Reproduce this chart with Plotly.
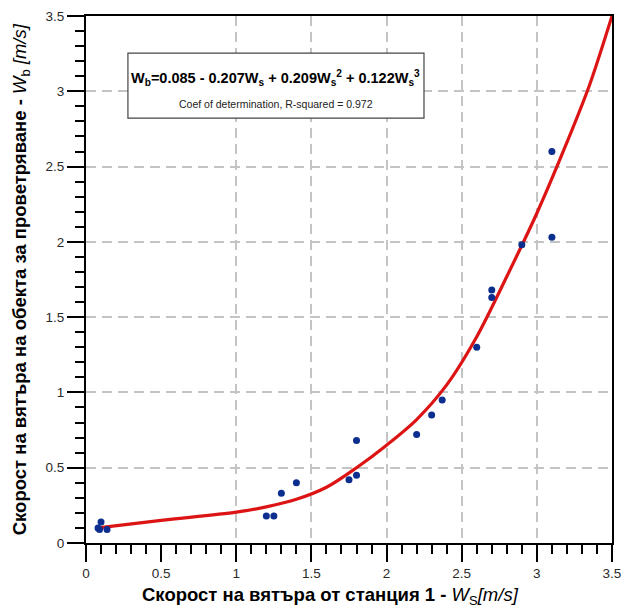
import plotly.graph_objects as go

# Measured data points
ws = [0.08, 0.09, 0.10, 0.14, 1.20, 1.25, 1.30, 1.40, 1.75, 1.80, 1.80,
      2.20, 2.30, 2.37, 2.60, 2.70, 2.70, 2.90, 3.10, 3.10]
wb = [0.10, 0.09, 0.14, 0.09, 0.18, 0.18, 0.33, 0.40, 0.42, 0.45, 0.68,
      0.72, 0.85, 0.95, 1.30, 1.68, 1.63, 1.98, 2.60, 2.03]

# Fitted curve
fit_x = [0.08, 0.5, 1.0, 1.2, 1.4, 1.6, 1.8, 2.0, 2.2, 2.4, 2.6, 2.8, 3.0, 3.2, 3.35, 3.5]
fit_y = [0.10, 0.150, 0.205, 0.24, 0.29, 0.37, 0.50, 0.65, 0.82, 1.05, 1.37, 1.77, 2.19, 2.66, 3.04, 3.5]

tick_vals = [0, 0.5, 1, 1.5, 2, 2.5, 3, 3.5]
tick_text = ["0", "0.5", "1", "1.5", "2", "2.5", "3", "3.5"]
grid_x = [1, 1.5, 2, 2.5, 3]

eq_line1 = ("<b>W<sub>b</sub>=0.085 - 0.207W<sub>s</sub> + 0.209W<sub>s</sub><sup>2</sup>"
            " + 0.122W<sub>s</sub><sup>3</sup></b>")
eq_line2 = "Coef of determination, R-squared = 0.972"
x_title = "<b>Скорост на вятъра от станция 1 - </b><i>W</i><sub>S</sub><i>[m/s]</i>"
y_title = "<b>Скорост на вятъра на обекта за проветряване - </b><i>W</i><sub>b</sub><i> [m/s]</i>"

FONT = "Liberation Sans, Arial, sans-serif"
GRID = dict(gridcolor="#c4c4c4", griddash="10px,6px", gridwidth=1.5)

fig = go.Figure()
fig.add_trace(go.Scatter(x=fit_x, y=fit_y, mode="lines",
                         line=dict(color="#dc1414", width=3.2, shape="spline", smoothing=0.9),
                         hoverinfo="skip", showlegend=False))
fig.add_trace(go.Scatter(x=ws, y=wb, mode="markers",
                         marker=dict(color="#0c2f8f", size=7),
                         showlegend=False))
# grid-only overlay axis for the vertical dashed lines
fig.add_trace(go.Scatter(x=[None], y=[None], xaxis="x2", showlegend=False))

axis_common = dict(
    range=[0, 3.5], tickmode="array", tickvals=tick_vals, ticktext=tick_text,
    ticks="outside", ticklen=17, tickwidth=2, tickcolor="black",
    showline=True, linecolor="black", linewidth=2, mirror=True,
    tickfont=dict(family=FONT, size=13.5, color="#2a2a2a"),
    minor=dict(dtick=0.1, tick0=0, ticks="outside", ticklen=9, tickwidth=2,
               tickcolor="black", showgrid=False),
    zeroline=False, automargin=False,
)

fig.update_layout(
    width=625, height=607,
    margin=dict(l=86, r=13, t=16, b=64),
    plot_bgcolor="white", paper_bgcolor="white",
    font=dict(family=FONT),
    xaxis=dict(**axis_common, showgrid=False),
    xaxis2=dict(overlaying="x", range=[0, 3.5], tickvals=grid_x, showticklabels=False,
                ticks="", showline=False, showgrid=True, zeroline=False, automargin=False, **GRID),
    yaxis=dict(**axis_common, showgrid=True, **GRID),
    showlegend=False,
)

# axis titles
fig.add_annotation(x=0.464, y=-0.1, xref="paper", yref="paper", text=x_title,
                   showarrow=False, xanchor="center", yanchor="middle",
                   font=dict(family=FONT, size=18.5, color="black"))
fig.add_annotation(x=-0.124, y=0.5, xref="paper", yref="paper", text=y_title,
                   showarrow=False, textangle=-90, xanchor="center", yanchor="middle",
                   font=dict(family=FONT, size=18.5, color="black"))

# equation box
fig.add_shape(type="rect", xref="x", yref="y", x0=0.279, x1=2.249, y0=2.822, y1=3.254,
              line=dict(color="#444", width=1.2), fillcolor="white", layer="above")
fig.add_annotation(x=1.264, y=3.085, xref="x", yref="y", text=eq_line1, showarrow=False,
                   font=dict(family=FONT, size=14.5, color="black"))
fig.add_annotation(x=1.264, y=2.915, xref="x", yref="y", text=eq_line2, showarrow=False,
                   font=dict(family=FONT, size=10.5, color="#222"))

fig.write_html("out.html", config={"displayModeBar": False})

# remove the default page margin so the figure sits at the window's top-left corner
with open("out.html", "r", encoding="utf-8") as f:
    html = f.read()
html = html.replace("<body>", '<body style="margin:0;padding:0;overflow:hidden;">', 1)
with open("out.html", "w", encoding="utf-8") as f:
    f.write(html)
